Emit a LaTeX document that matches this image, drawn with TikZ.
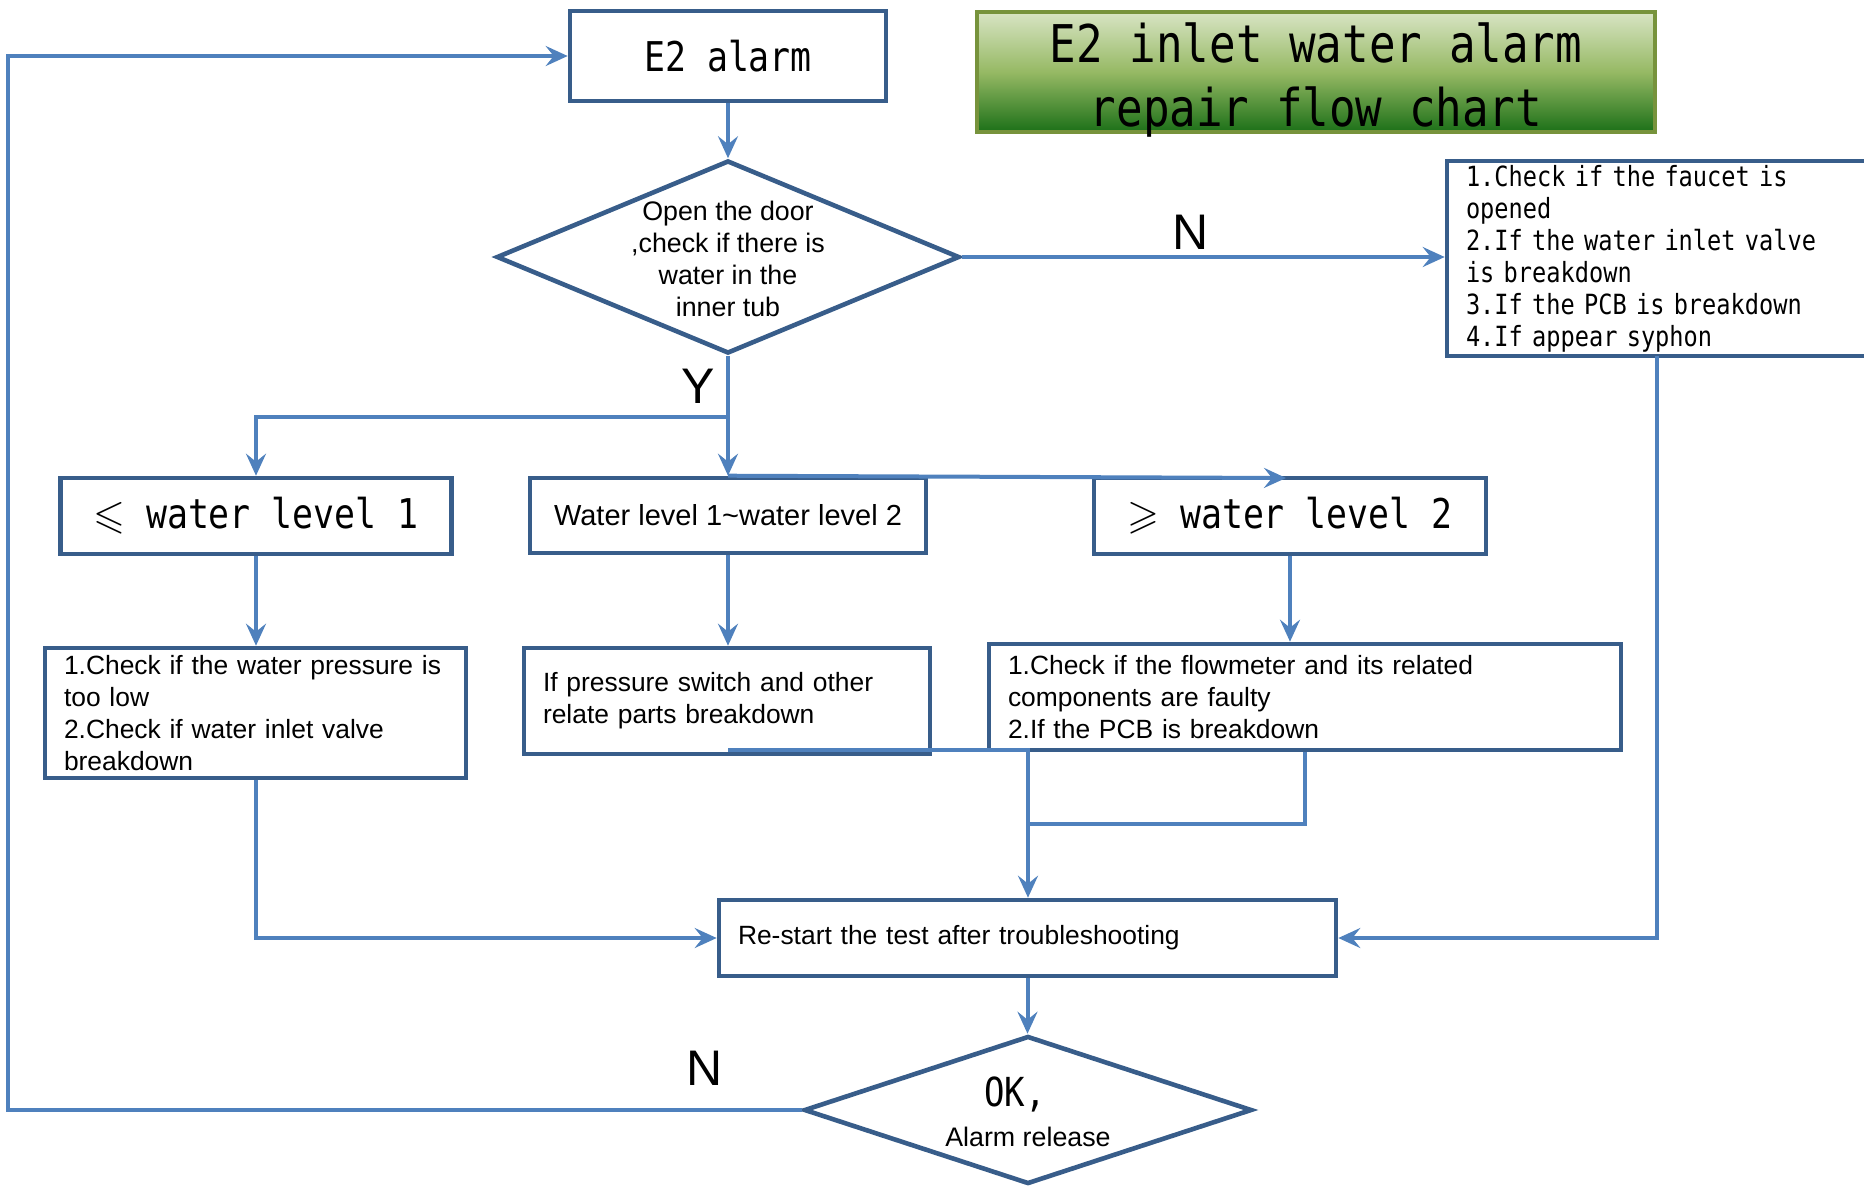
\documentclass[tikz,border=0pt]{standalone}
\usepackage{amssymb}
\usepackage{fontspec}
\setmainfont{Liberation Sans}
\newfontfamily\gothic[FakeStretch=0.85]{DejaVu Sans Mono}
\usetikzlibrary{arrows.meta, shapes.geometric}
\definecolor{boxblue}{RGB}{56,93,138}
\definecolor{lineblue}{RGB}{79,129,189}
\definecolor{titleedge}{RGB}{119,147,60}
\tikzset{box/.style={draw=boxblue, line width=2.3pt, rectangle, inner sep=0pt},
txtbox/.style={box, inner xsep=9.5pt, align=left, font=\fontsize{13.2}{16}\selectfont},
monobox/.style={box, font=\gothic\fontsize{20.5}{24}\selectfont},
decide/.style={draw=boxblue, line width=2.3pt, diamond, inner sep=0pt},
conn/.style={draw=lineblue, line width=2pt},
link/.style={conn, -{Stealth[length=11pt,width=10pt,inset=4pt]}},
yn/.style={font=\fontsize{25}{30}\selectfont}}

\begin{document}
\begin{tikzpicture}[x=0.5pt, y=-0.5pt]
\useasboundingbox (0,0) rectangle (1864,1185);
\clip (0,0) rectangle (1864,1185);
%title
\node[draw=titleedge, line width=2pt, top color={rgb,255:red,216;green,228;blue,196}, bottom color={rgb,255:red,28;green,112;blue,24}, middle color={rgb,255:red,150;green,185;blue,100}, minimum width=339pt, minimum height=60pt] (title) at (1316,72) {};
\node[align=center, font=\gothic\fontsize{26}{32}\selectfont] (titletxt) at (1316,80) {E2 inlet water alarm\\repair flow chart};

\node[monobox, minimum width=158pt, minimum height=45pt] (e2) at (728,56) {E2 alarm};
\node[decide, minimum width=231.5pt, minimum height=96.5pt] (dia1) at (728,257) {};
\node[align=center, font=\fontsize{13.4}{16}\selectfont] (dia1txt) at (728,259) {Open the door\\,check if there is\\water in the\\inner tub};
\node[box, minimum width=226.5pt, minimum height=97.5pt, text width=207.5pt, inner xsep=9.5pt, align=left, font=\gothic\fontsize{13.9}{16}\selectfont] (chk) at (1673.5,258.5) {1.Check if the faucet is\\opened\\2.If the water inlet valve\\is breakdown\\3.If the PCB is breakdown\\4.If appear syphon};

%levels
\node[monobox, minimum width=195.5pt, minimum height=38pt] (lv1) at (256,516) {$\leqslant$ water level 1};
\node[box, minimum width=198pt, minimum height=37.5pt, font=\fontsize{14.5}{17}\selectfont] (lv12) at (728,515.5) {Water level 1\textasciitilde water level 2};
\node[monobox, minimum width=196pt, minimum height=38pt] (lv2) at (1290,516) {$\geqslant$ water level 2};

\node[txtbox, minimum height=65pt, text width=191.5pt] (pres) at (255.5,713) {1.Check if the water pressure is\\too low\\2.Check if water inlet valve\\breakdown};
\node[txtbox, minimum height=53pt, text width=184pt] (sw) at (727,701) {If pressure switch and other\\relate parts breakdown};
\node[txtbox, minimum height=53pt, text width=297pt] (flow) at (1305,697) {1.Check if the flowmeter and its related\\components are faulty\\2.If the PCB is breakdown};
\node[txtbox, minimum height=38pt, text width=289.5pt] (rst) at (1027.5,938) {Re-start the test after troubleshooting};

\node[decide, minimum width=224pt, minimum height=74pt] (ok) at (1028,1110) {};
\node[font=\gothic\fontsize{20}{24}\selectfont] (oktxt) at (1015,1094) {OK,};
\node[font=\fontsize{13.4}{16}\selectfont] (reltxt) at (1028,1137) {Alarm release};

\node[yn] (nlab) at (1191,232) {N};
\node[yn] (ylab) at (698,386) {Y};
\node[yn] (nlab2) at (705,1068) {N};

\coordinate (yj) at (728,417);
\coordinate (lvtop) at (1286,478);
\coordinate (swb) at (728,750);
\coordinate (j1) at (1028,750);
\coordinate (j2) at (1028,824);
\coordinate (cb) at (1657,356);
\coordinate (lb) at (8,1110);

\draw[link] (e2) -- (dia1);
\draw[link] (dia1.east) -- (dia1.east -| chk.west);
\draw[link] (dia1.south) -- (yj) -| (lv1.north);
\draw[link] (yj) -- (lv12.north);
\draw[link] (lv12.north) -- (lvtop);
\foreach \a/\b in {lv1/pres, lv12/sw, lv2/flow} {\draw[link] (\a.south) -- (\a.south |- \b.north);}
\draw[link] (pres.south) |- (rst.west);
\draw[conn] (swb) -- (j1) -- (j2);
\draw[conn] (flow.south) |- (j2);
\draw[link] (j2) -- (j2 |- rst.north);
\draw[link] (cb) |- (rst.east);
\draw[link] (rst.south) -- (rst.south |- ok.north);
\draw[link] (ok.west) -- (lb) |- (e2.west);
\end{tikzpicture}
\end{document}
